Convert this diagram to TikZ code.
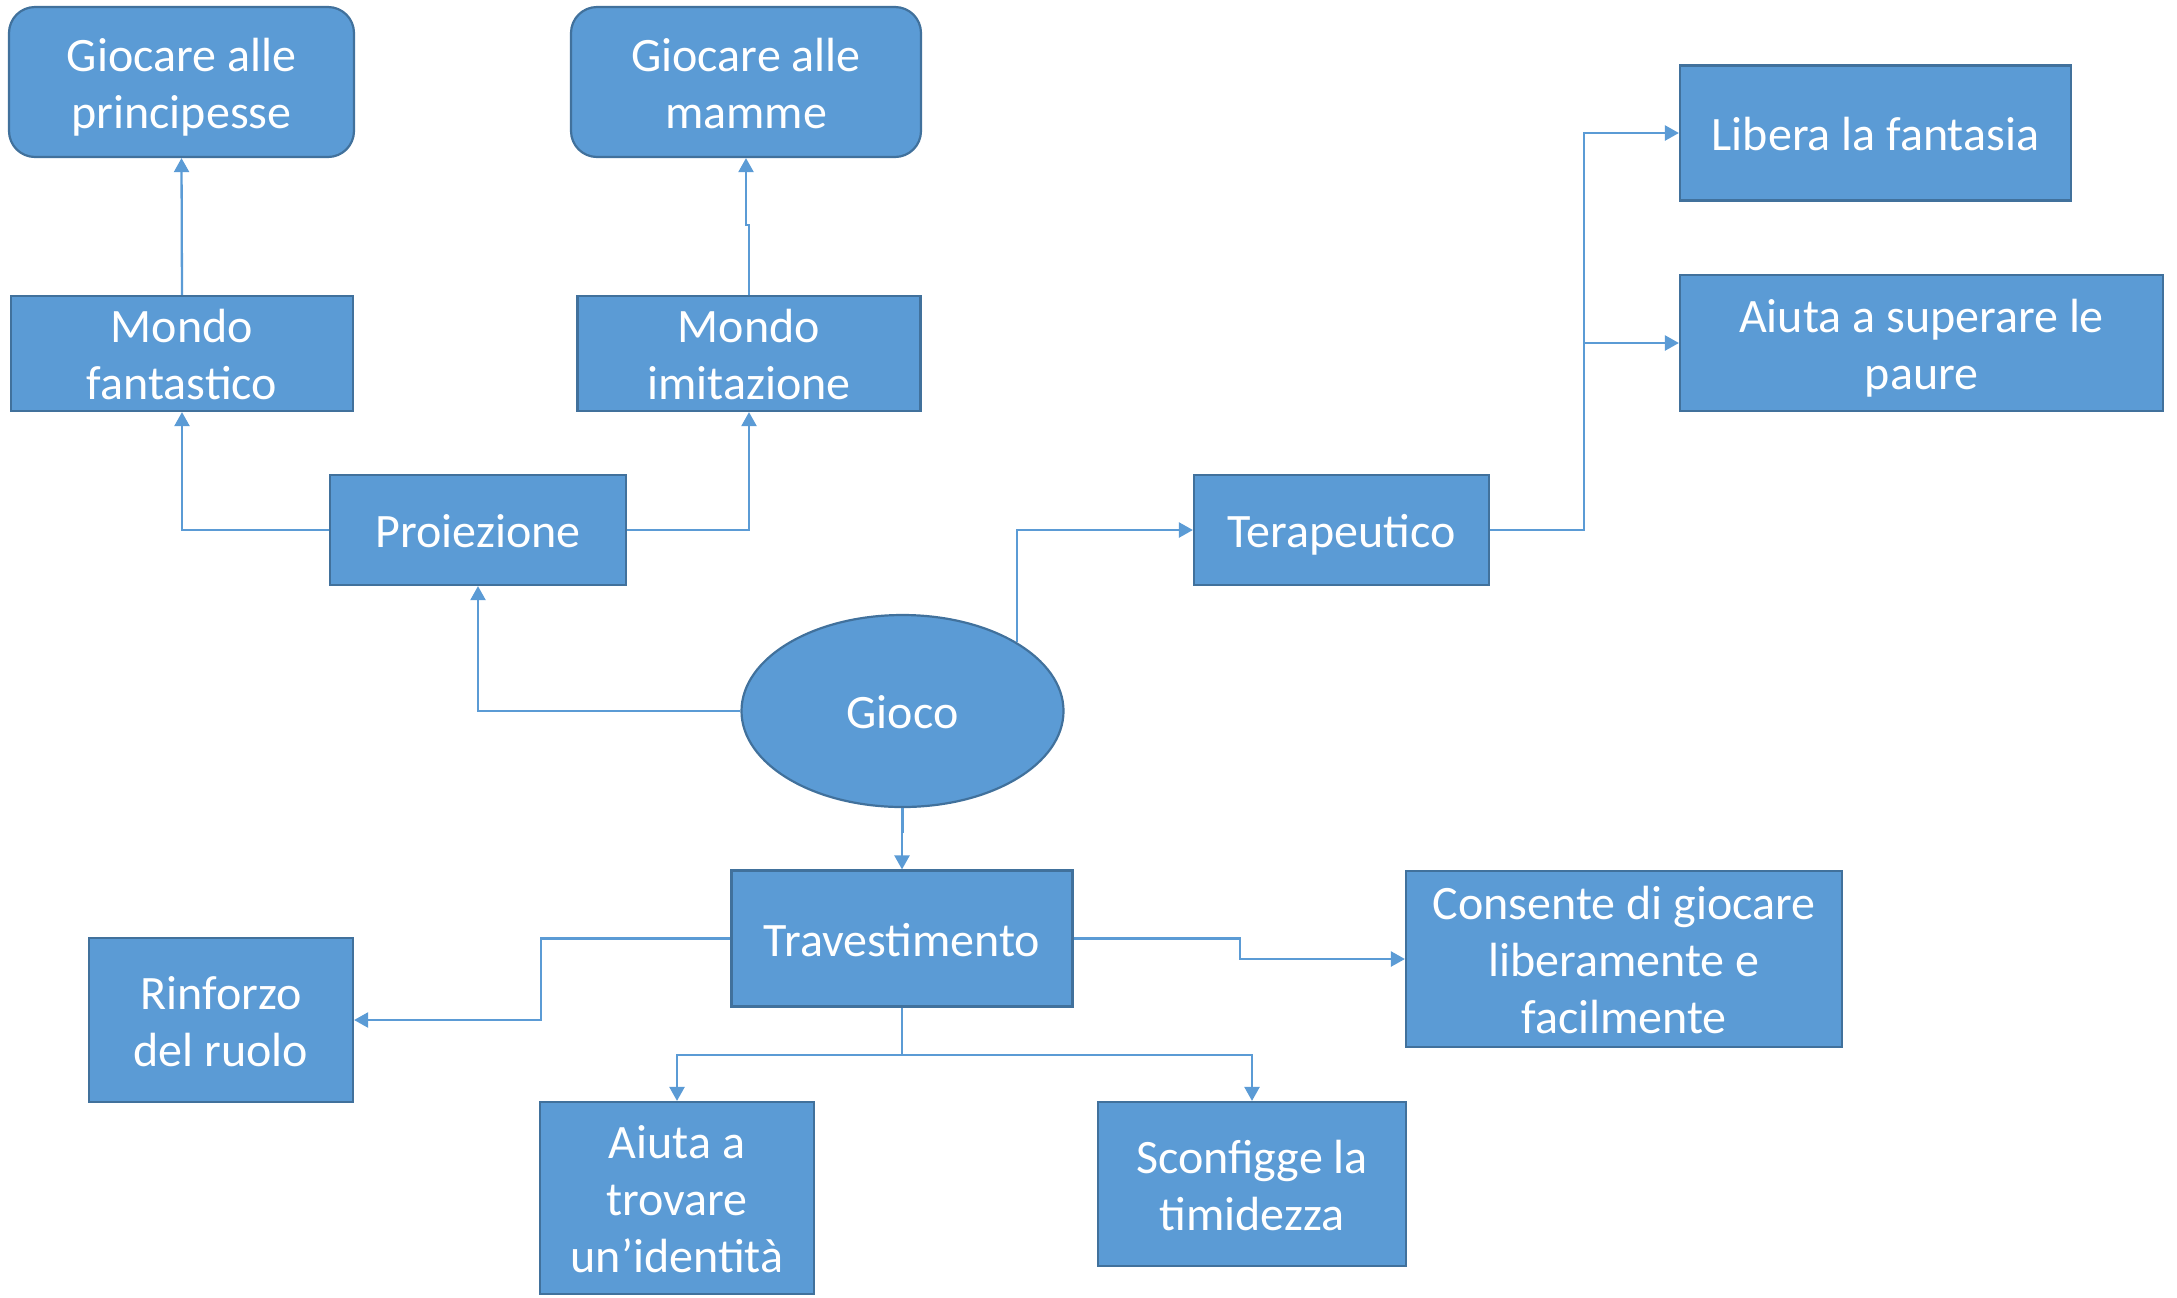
\documentclass[tikz,border=0pt]{standalone}
\usepackage{fontspec}
\setmainfont{Carlito}
\usetikzlibrary{shapes.geometric,arrows.meta}
\definecolor{boxfill}{HTML}{5B9BD5}
\definecolor{boxline}{HTML}{41719C}
\definecolor{connc}{HTML}{5B9BD5}
\newcommand{\ls}{\leavevmode\vrule height 23pt depth 5.5pt width 0pt\relax}
\begin{document}
\begin{tikzpicture}[x=0.5pt,y=-0.5pt,
 box/.style={draw=boxline,fill=boxfill,line width=1.1pt,text=white,align=center,inner sep=0pt,font=\fontsize{24}{28.5}\selectfont},
 rbox/.style={box,rounded corners=13pt},
 conn/.style={draw=connc,line width=1.15pt,-{Triangle[length=7pt,width=7.5pt]}},
 plainline/.style={draw=connc,line width=1.15pt}]
\useasboundingbox (0,0) rectangle (2177,1297);
\node[rbox,minimum width=172.5pt,minimum height=75pt] (gp) at (181.5,82) {\ls Giocare alle\\\ls principesse};
\node[rbox,minimum width=175pt,minimum height=75pt] (gm) at (746,82) {\ls Giocare alle\\\ls mamme};
\node[box,minimum width=171pt,minimum height=57.5pt] (mf) at (182,353.5) {\ls Mondo\\\ls fantastico};
\node[box,minimum width=171.5pt,minimum height=57.5pt] (mi) at (749,353.5) {\ls Mondo\\\ls imitazione};
\node[box,minimum width=148pt,minimum height=55pt] (pr) at (478,530) {\ls Proiezione};
\node[box,minimum width=147.5pt,minimum height=55pt] (te) at (1341.5,530) {\ls Terapeutico};
\node[box,minimum width=195.5pt,minimum height=67.5pt] (lf) at (1875.5,133) {\ls Libera la fantasia};
\node[box,minimum width=241.5pt,minimum height=68pt] (as) at (1921.5,343) {\ls Aiuta a superare le\\\ls paure};
\node[box,ellipse,minimum width=161pt,minimum height=96pt] (gioco) at (902.5,711) {\ls Gioco};
\node[box,minimum width=170.5pt,minimum height=68pt] (tr) at (902,938.5) {\ls Travestimento};
\node[box,minimum width=132pt,minimum height=82pt] (rr) at (221,1020) {\ls Rinforzo\\\ls del ruolo};
\node[box,minimum width=218pt,minimum height=88pt] (cg) at (1624,959) {\ls Consente di giocare\\\ls liberamente e\\\ls facilmente};
\node[box,minimum width=137pt,minimum height=96pt] (ai) at (677,1198) {\ls Aiuta a\\\ls trovare\\\ls un’identità};
\node[box,minimum width=154pt,minimum height=82pt] (sc) at (1252,1184) {\ls Sconfigge la\\\ls timidezza};

\draw[conn] (mf.north) -- (gp.south);
\draw[conn] (mi.north) -- ++(0,-70) -| (gm.south);
\draw[conn] (pr.west) -| (mf.south);
\draw[conn] (pr.east) -| (mi.south);
\draw[conn] (gioco.west) -| (pr.south);
\draw[conn] (gioco.north east) |- (te.west);
\coordinate (tj) at (1584,530);
\draw[conn] (te.east) -- (tj) |- (lf.west);
\draw[conn] (tj) |- (as.west);
\draw[conn] (gioco.south) -- ++(0,24) -| (tr.north);
\coordinate (tlx) at (541,938.5);
\draw[conn] (tr.west) -- (tlx) |- (rr.east);
\coordinate (trx) at (1240,938.5);
\draw[conn] (tr.east) -- (trx) |- (cg.west);
\coordinate (tb) at (902,1055);
\draw[conn] (tr.south) -- (tb) -| (ai.north);
\draw[conn] (tb) -| (sc.north);
\end{tikzpicture}
\end{document}
